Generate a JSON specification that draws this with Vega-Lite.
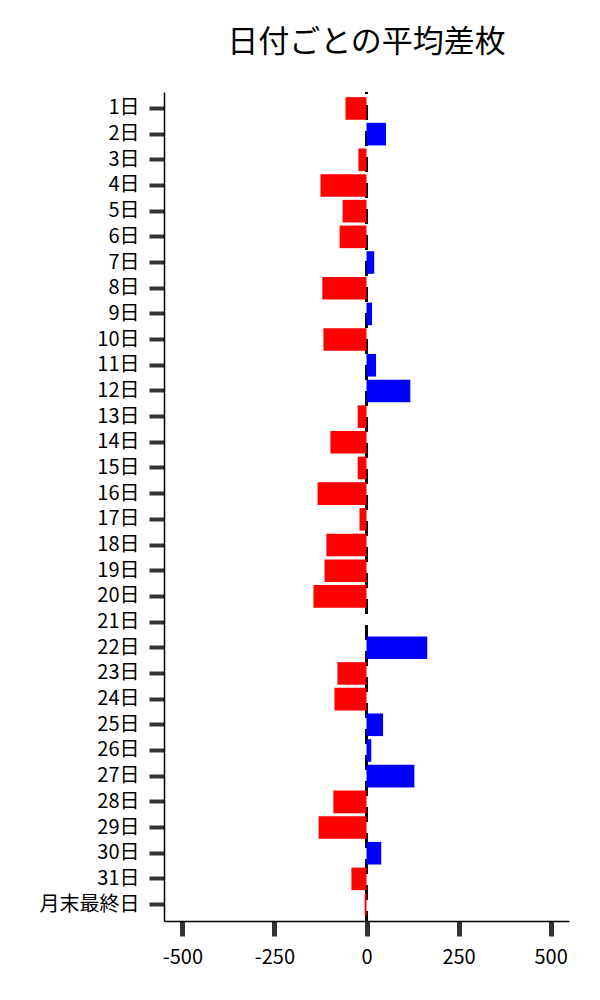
{
  "$schema": "https://vega.github.io/schema/vega-lite/v6.json",
  "autosize": {"type": "none"},
  "padding": {"left": 164, "top": 92, "right": 31, "bottom": 79},
  "width": 405,
  "height": 829,
  "background": "white",
  "title": {
    "text": "日付ごとの平均差枚",
    "font": "Noto Sans CJK JP",
    "fontSize": 31,
    "fontWeight": "normal",
    "color": "black",
    "anchor": "middle",
    "offset": 32
  },
  "data": {
    "values": [
      {"day": "1日", "value": -57},
      {"day": "2日", "value": 53},
      {"day": "3日", "value": -22},
      {"day": "4日", "value": -125},
      {"day": "5日", "value": -65},
      {"day": "6日", "value": -73},
      {"day": "7日", "value": 21},
      {"day": "8日", "value": -120},
      {"day": "9日", "value": 15},
      {"day": "10日", "value": -117},
      {"day": "11日", "value": 26},
      {"day": "12日", "value": 119},
      {"day": "13日", "value": -24},
      {"day": "14日", "value": -98},
      {"day": "15日", "value": -24},
      {"day": "16日", "value": -133},
      {"day": "17日", "value": -19},
      {"day": "18日", "value": -109},
      {"day": "19日", "value": -114},
      {"day": "20日", "value": -144},
      {"day": "21日", "value": 0},
      {"day": "22日", "value": 165},
      {"day": "23日", "value": -79},
      {"day": "24日", "value": -87},
      {"day": "25日", "value": 45},
      {"day": "26日", "value": 13},
      {"day": "27日", "value": 130},
      {"day": "28日", "value": -90},
      {"day": "29日", "value": -130},
      {"day": "30日", "value": 40},
      {"day": "31日", "value": -41},
      {"day": "月末最終日", "value": -5}
    ]
  },
  "layer": [
    {
      "mark": {"type": "rule", "color": "black", "strokeWidth": 2, "strokeDash": [15, 11], "strokeDashOffset": -13},
      "encoding": {
        "x": {"datum": 0, "type": "quantitative"}
      }
    },
    {
      "mark": {"type": "bar"},
      "encoding": {
        "y": {
          "field": "day",
          "type": "nominal",
          "sort": null,
          "scale": {"paddingInner": 0.12, "paddingOuter": 0.2},
          "axis": {
            "title": null,
            "labelFont": "Noto Sans CJK JP",
            "labelFontSize": 20,
            "labelColor": "black",
            "labelPadding": 10,
            "tickSize": 15,
            "tickWidth": 4,
            "tickColor": "#333333",
            "domainColor": "black",
            "domainWidth": 1.5,
            "grid": false
          }
        },
        "x": {
          "field": "value",
          "type": "quantitative",
          "scale": {"domain": [-550, 550], "nice": false},
          "axis": {
            "title": null,
            "values": [-500, -250, 0, 250, 500],
            "labelExpr": "replace(datum.label, '−', '-')",
            "labelFont": "Noto Sans CJK JP",
            "labelFontSize": 20,
            "labelColor": "black",
            "labelPadding": 11,
            "tickSize": 15,
            "tickWidth": 5,
            "tickColor": "#333333",
            "domainColor": "black",
            "domainWidth": 1.5,
            "grid": false
          }
        },
        "color": {
          "condition": {"test": "datum.value < 0", "value": "#ff0000"},
          "value": "#0000ff"
        }
      }
    }
  ],
  "config": {
    "view": {"stroke": null}
  }
}
